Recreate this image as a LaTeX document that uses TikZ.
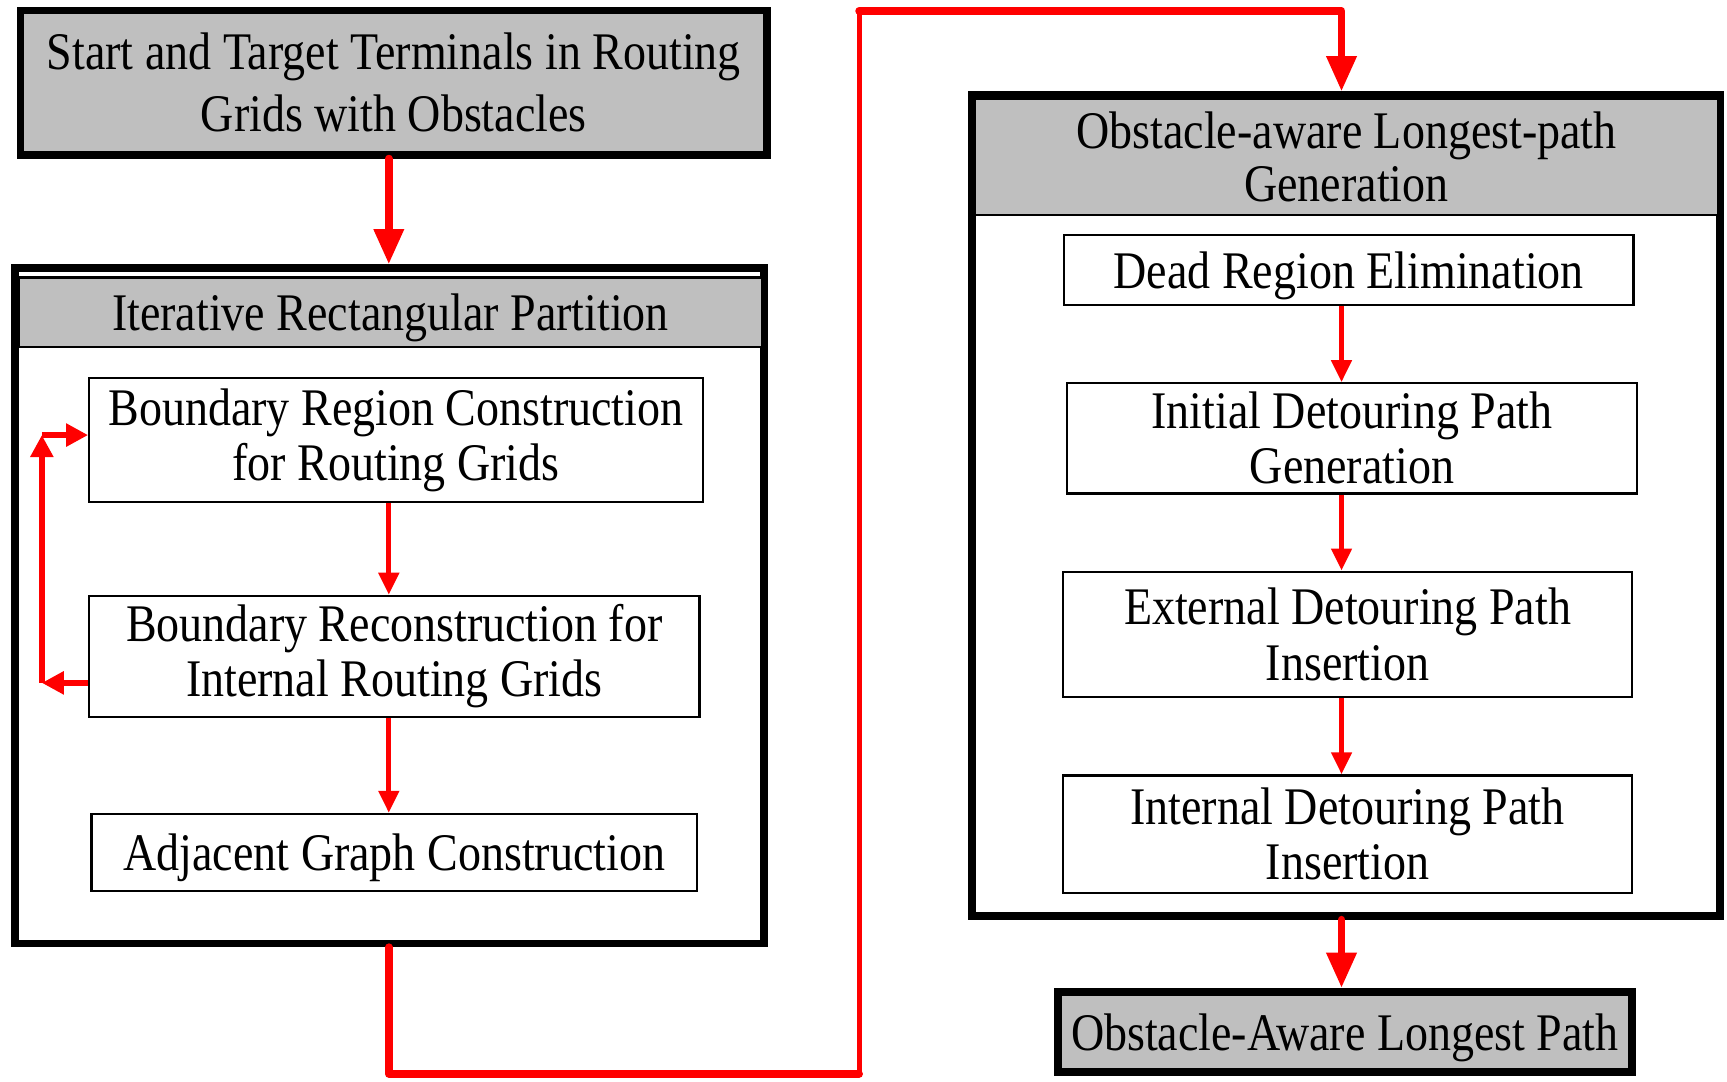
\documentclass[tikz,border=0pt]{standalone}
\usepackage{fontspec}
\setmainfont[FakeStretch=0.87]{Liberation Serif}
\usetikzlibrary{arrows.meta}
\definecolor{bandgray}{RGB}{191,191,191}
\tikzset{
  boxsize/.style 2 args={minimum width=#1*0.5pt, minimum height=#2*0.5pt},
  stepbox/.style={draw, line width=1pt, fill=white, inner sep=0pt, align=center,
    font=\fontsize{24}{25}\selectfont},
  oneline/.style={text depth=0pt},
  heavybox/.style={draw, line width=3.5pt, fill=bandgray, inner sep=0pt, align=center,
    font=\fontsize{24}{28}\selectfont},
  framebox/.style={draw, line width=3.5pt, fill=white, inner sep=0pt},
  bandbox/.style={draw, line width=1pt, fill=bandgray, inner sep=0pt, align=center,
    font=\fontsize{24}{24}\selectfont},
  flow/.style={red, line width=2.3pt, -{Triangle[length=10pt,width=9pt]}},
  loopflow/.style={red, line width=3pt, -{Triangle[length=10pt,width=10pt]}},
  mainflow/.style={red, line width=3.5pt, line cap=round, line join=round},
  mainarrow/.style={mainflow, -{Triangle[length=16pt,width=13pt]}}
}
\begin{document}
\begin{tikzpicture}[x=0.5pt,y=-0.5pt]
\useasboundingbox (0,0) rectangle (1568,982);

% ===== Left column: input and partition =====
\node[heavybox, boxsize={678}{131}] (terminals) at (357.5,75)
  {Start and Target Terminals in Routing\\Grids with Obstacles};
\node[framebox, boxsize={680}{613}] (partition) at (353.5,550) {};
\node[bandbox, oneline, boxsize={675}{63}] (partTitle) at (354.5,283.5)
  {Iterative Rectangular Partition};
\node[stepbox, boxsize={557}{113}] (boundReg) at (359.5,399.5)
  {Boundary Region Construction\\for Routing Grids};
\node[stepbox, boxsize={554}{110}] (boundRec) at (358,596)
  {Boundary Reconstruction for\\Internal Routing Grids};
\node[stepbox, oneline, boxsize={550}{70}] (adjGraph) at (358,774)
  {Adjacent Graph Construction};

\coordinate (colL) at (353,0);
\draw[mainarrow] (terminals.south -| colL) -- (partition.north -| colL);
\draw[flow] (boundReg.south -| colL) -- (boundRec.north -| colL);
\draw[flow] (boundRec.south -| colL) -- (adjGraph.north -| colL);

% feedback loop
\coordinate (fbLow) at (38,620);
\coordinate (fbHigh) at (38,395);
\draw[loopflow] (boundRec.west |- fbLow) -- (fbLow);
\draw[loopflow] (fbLow) -- (fbHigh);
\draw[loopflow] (fbHigh) -- (boundReg.west |- fbHigh);

% ===== Right column: longest-path generation =====
\node[framebox, boxsize={679}{745}] (generation) at (1222,459) {};
\node[bandbox, boxsize={675}{105}] (genTitle) at (1222.5,142.5)
  {Obstacle-aware Longest-path\\Generation};
\node[stepbox, oneline, boxsize={517}{64}] (deadReg) at (1224.5,245)
  {Dead Region Elimination};
\node[stepbox, boxsize={517}{100}] (initPath) at (1227.5,398)
  {Initial Detouring Path\\Generation};
\node[stepbox, boxsize={517}{114}] (extPath) at (1223.5,576)
  {External Detouring Path\\Insertion};
\node[stepbox, boxsize={517}{107}] (intPath) at (1223.5,757.5)
  {Internal Detouring Path\\Insertion};
\node[heavybox, oneline, boxsize={521}{73}] (result) at (1221,937)
  {Obstacle-Aware Longest Path};

\coordinate (colR) at (1218,0);
\draw[flow] (deadReg.south -| colR) -- (initPath.north -| colR);
\draw[flow] (initPath.south -| colR) -- (extPath.north -| colR);
\draw[flow] (extPath.south -| colR) -- (intPath.north -| colR);
\draw[mainarrow] (generation.south -| colR) -- (result.north -| colR);

% ===== Link between the columns =====
\coordinate (runA) at (353,975);
\coordinate (runB) at (780,975);
\coordinate (runC) at (780,10);
\coordinate (runD) at (1218,10);
\draw[mainflow] (partition.south -| colL) -- (runA) -- (runB);
\draw[mainflow, line width=2.3pt] (runB) -- (runC);
\draw[mainarrow] (runC) -- (runD) -- (generation.north -| runD);

\end{tikzpicture}
\end{document}
